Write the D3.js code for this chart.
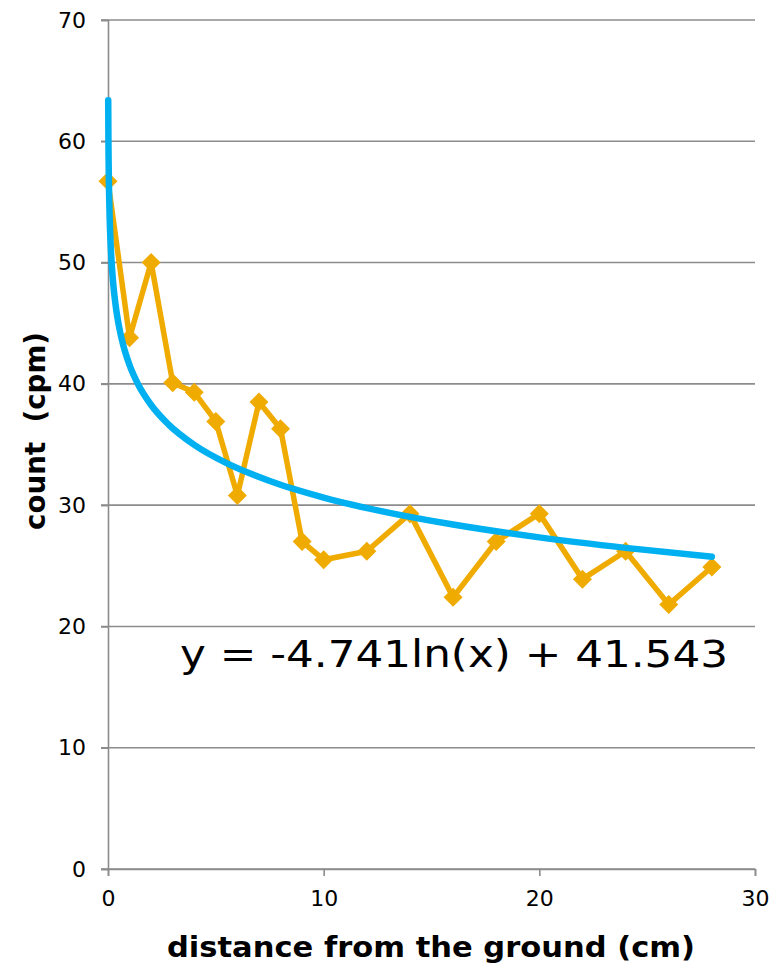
<!DOCTYPE html>
<html><head><meta charset="utf-8">
<script src="https://cdn.jsdelivr.net/npm/d3@7"></script>
<style>body{margin:0;background:#fff;} svg{display:block;}</style>
</head><body>
<script>
const distances = [0,1,2,3,4,5,6,7,8,9,10,12,14,16,18,20,22,24,26,28];
const counts = [56.7,43.8,50.0,40.1,39.3,36.9,30.8,38.5,36.3,27.0,25.5,26.2,29.3,22.4,27.0,29.3,23.9,26.2,21.8,24.9];
const xTicks = [0,10,20,30];
const yTicks = [0,10,20,30,40,50,60,70];
const trendA = -4.741, trendB = 41.543;
const trendXs = [0.01,0.02,0.03,0.05,0.08,0.12,0.18,0.25,0.35,0.5,0.7,1,1.4,2,2.8,4,5.5,7.5,10,13,16,20,24,28];
const equationText = "y = -4.741ln(x) + 41.543";
const xTitle = "distance from the ground (cm)";
const yTitle = "count  (cpm)";

const W = 776, H = 968;
const m = {left:108, right:21, top:20, bottom:99};
const svg = d3.select("body").append("svg").attr("width",W).attr("height",H);
const x = d3.scaleLinear().domain([0,30]).range([m.left, W-m.right]);
const y = d3.scaleLinear().domain([0,70]).range([H-m.bottom, m.top]);
const font = "'DejaVu Sans', sans-serif";
const gridColor = "#8c8c8c";

// gridlines
svg.append("g").selectAll("line").data(yTicks).join("line")
  .attr("x1", m.left-7).attr("x2", W-m.right)
  .attr("y1", d=>y(d)).attr("y2", d=>y(d))
  .attr("stroke", gridColor).attr("stroke-width", 1.6);

// y axis
const yAxis = svg.append("g").attr("transform",`translate(${m.left},0)`)
  .call(d3.axisLeft(y).tickValues(yTicks).tickSize(7).tickPadding(15));
yAxis.select(".domain").attr("stroke",gridColor).attr("stroke-width",1.6);
yAxis.selectAll(".tick line").attr("stroke",gridColor).attr("stroke-width",1.6);
yAxis.selectAll("text").attr("font-family",font).attr("font-size",22).attr("fill","#000");

// x axis
const xAxis = svg.append("g").attr("transform",`translate(0,${y(0)})`)
  .call(d3.axisBottom(x).tickValues(xTicks).tickSize(7).tickPadding(14));
xAxis.select(".domain").attr("stroke",gridColor).attr("stroke-width",1.6);
xAxis.selectAll(".tick line").attr("stroke",gridColor).attr("stroke-width",1.6);
xAxis.selectAll("text").attr("font-family",font).attr("font-size",22).attr("fill","#000");

// data line
const pts = distances.map((d,i)=>[d,counts[i]]);
svg.append("path").datum(pts)
  .attr("d", d3.line().x(d=>x(d[0])).y(d=>y(d[1])))
  .attr("fill","none").attr("stroke","#f0ab00").attr("stroke-width",5.5).attr("stroke-linejoin","round");
svg.append("g").selectAll("path").data(pts).join("path")
  .attr("transform", d=>`translate(${x(d[0])},${y(d[1])})`)
  .attr("d", d3.symbol(d3.symbolDiamond2, 230)())
  .attr("fill","#f0ab00");

// trendline
svg.append("path").datum(trendXs.map(v=>[v, trendA*Math.log(v)+trendB]))
  .attr("d", d3.line().curve(d3.curveMonotoneX).x(d=>x(d[0])).y(d=>y(d[1])))
  .attr("fill","none").attr("stroke","#00b0f0").attr("stroke-width",6.5).attr("stroke-linecap","round");

// equation
svg.append("text").attr("x",180).attr("y",667).text(equationText)
  .attr("font-family",font).attr("font-size",37).attr("fill","#000")
  .attr("textLength",548).attr("lengthAdjust","spacingAndGlyphs");

// titles
svg.append("text").attr("x",167).attr("y",957)
  .text(xTitle).attr("font-family",font).attr("font-weight","bold").attr("font-size",29).attr("fill","#000")
  .attr("textLength",528).attr("lengthAdjust","spacingAndGlyphs");
svg.append("text").attr("transform",`translate(45,530) rotate(-90)`)
  .text(yTitle).attr("font-family",font).attr("font-weight","bold").attr("font-size",29).attr("fill","#000")
  .attr("xml:space","preserve").style("white-space","pre")
  .attr("textLength",198).attr("lengthAdjust","spacingAndGlyphs");
</script>
</body></html>
